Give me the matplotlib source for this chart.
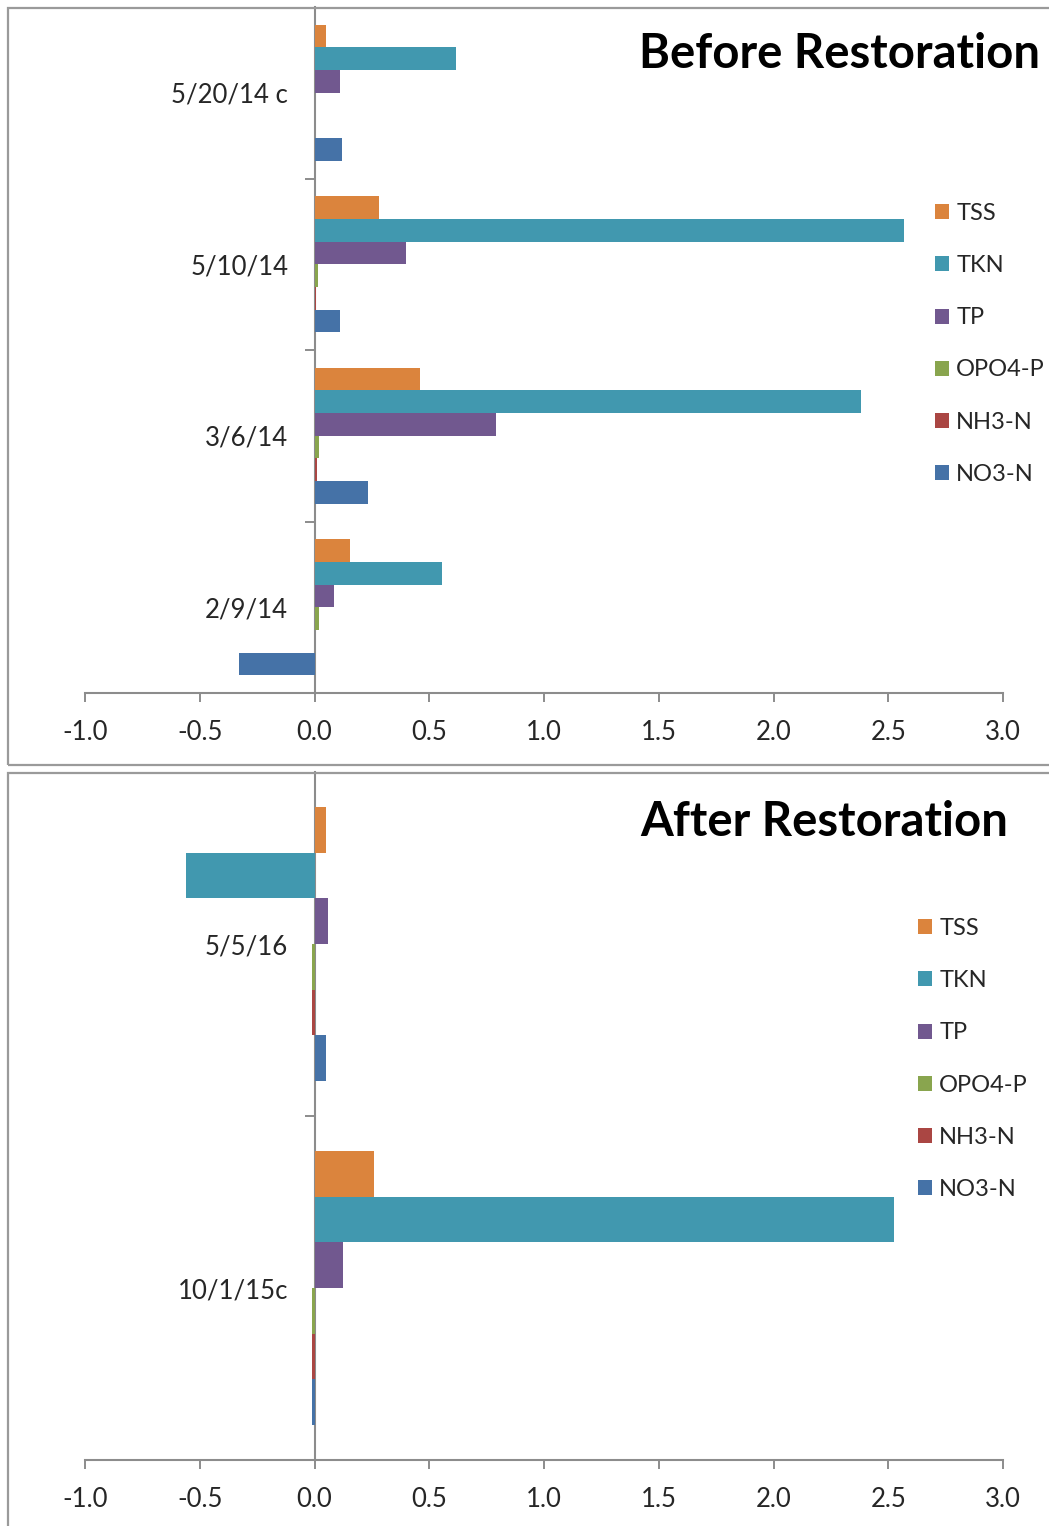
import matplotlib
matplotlib.use("Agg")
import matplotlib.pyplot as plt
from matplotlib.patches import Rectangle
import numpy as np

plt.rcParams.update({"font.family": ["Lato", "DejaVu Sans"]})

W, H = 1049, 1526

series = ["TSS", "TKN", "TP", "OPO4-P", "NH3-N", "NO3-N"]
colors = ["#db843d", "#4198af", "#71588f", "#89a54e", "#aa4643", "#4572a7"]

# ---- before restoration (bottom category first) ----
before_dates = ["2/9/14", "3/6/14", "5/10/14", "5/20/14 c"]
before_tss  = [0.155, 0.46, 0.28, 0.048]
before_tkn  = [0.555, 2.38, 2.57, 0.615]
before_tp   = [0.085, 0.79, 0.40, 0.11]
before_opo4 = [0.02, 0.02, 0.015, 0.0]
before_nh3  = [0.0, 0.012, 0.008, 0.0]
before_no3  = [-0.33, 0.235, 0.11, 0.12]

# ---- after restoration ----
after_dates = ["10/1/15c", "5/5/16"]
after_tss  = [0.26, 0.048]
after_tkn  = [2.525, -0.56]
after_tp   = [0.125, 0.06]
after_opo4 = [-0.01, -0.012]
after_nh3  = [-0.01, -0.012]
after_no3  = [-0.01, 0.048]

xticks = [-1.0, -0.5, 0.0, 0.5, 1.0, 1.5, 2.0, 2.5, 3.0]
GRAY = "#8c8c8c"
TXT = "#262626"


def px_rect(x0, y0, x1, y1):
    return [x0 / W, 1 - y1 / H, (x1 - x0) / W, (y1 - y0) / H]


def panel(ax, dates, vals, title, title_xy, leg_xy):
    n = len(dates)
    h = 0.795 / len(series)
    base = np.arange(n)
    for k, (name, c, v) in enumerate(zip(series, colors, vals)):
        ax.barh(base + (2.5 - k) * h, v, height=h, color=c, label=name,
                edgecolor="none", zorder=3)
    ax.set_xlim(-1, 3)
    ax.set_ylim(-0.5, n - 0.5)
    ax.spines["left"].set_position(("data", 0))
    for sp in ["top", "right"]:
        ax.spines[sp].set_visible(False)
    for sp in ["left", "bottom"]:
        ax.spines[sp].set_color(GRAY)
        ax.spines[sp].set_linewidth(1.5)
    ax.set_yticks(base)
    ax.set_yticklabels(dates)
    ax.set_yticks(np.arange(n - 1) + 0.5, minor=True)
    ax.tick_params(axis="y", which="major", length=0, pad=19, labelsize=18.5,
                   labelcolor=TXT)
    ax.tick_params(axis="y", which="minor", length=7, width=1.4, color=GRAY,
                   direction="out")
    ax.set_xticks(xticks)
    ax.set_xticklabels([f"{t:.1f}" for t in xticks])
    ax.tick_params(axis="x", length=6.5, width=1.4, color=GRAY, pad=13,
                   labelsize=18.5, labelcolor=TXT)
    ax.set_facecolor("none")
    fig.text(title_xy[0] / W, 1 - title_xy[1] / H, title, ha="right",
             va="baseline", fontsize=34, fontweight="bold", color="#000000")
    ax.legend(loc="upper left", bbox_to_anchor=(leg_xy[0] / W, 1 - leg_xy[1] / H),
              bbox_transform=fig.transFigure, frameon=False, fontsize=17,
              handlelength=0.6, handleheight=0.6, handletextpad=0.3,
              labelspacing=1.32, borderpad=0, borderaxespad=0, labelcolor=TXT)


fig = plt.figure(figsize=(W / 100, H / 100), dpi=100)

# panel borders
for (x0, y0, y1) in [(8, 8, 765), (8, 773, 1560)]:
    fig.patches.append(Rectangle((x0 / W, 1 - y1 / H), 2.0, (y1 - y0) / H,
                                 transform=fig.transFigure, fill=False,
                                 edgecolor="#9a9a9a", linewidth=1.6))

ax1 = fig.add_axes(px_rect(85, 7, 1003, 693))
panel(ax1, before_dates,
      [before_tss, before_tkn, before_tp, before_opo4, before_nh3, before_no3],
      "Before Restoration", (1040, 68), (935, 203))

ax2 = fig.add_axes(px_rect(85, 772, 1003, 1460))
panel(ax2, after_dates,
      [after_tss, after_tkn, after_tp, after_opo4, after_nh3, after_no3],
      "After Restoration", (1008, 836), (918, 918))

fig.savefig("out.png", dpi=100, facecolor="white")
